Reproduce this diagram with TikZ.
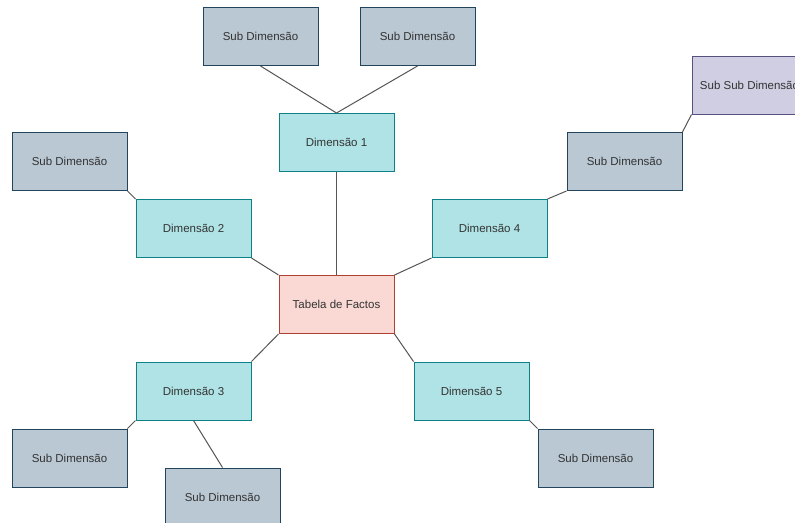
\documentclass[tikz,border=0pt]{standalone}
\usepackage{fontspec}
\setmainfont{Liberation Sans}
\definecolor{subfill}{HTML}{BAC8D3}
\definecolor{subdraw}{HTML}{23445D}
\definecolor{dimfill}{HTML}{B0E3E6}
\definecolor{dimdraw}{HTML}{0E8088}
\definecolor{factfill}{HTML}{FAD9D5}
\definecolor{factdraw}{HTML}{AE4132}
\definecolor{subsubfill}{HTML}{D0CEE2}
\definecolor{subsubdraw}{HTML}{56517E}
\definecolor{linkcol}{HTML}{555555}
\begin{document}
\begin{tikzpicture}[x=1pt,y=-1pt,
  box/.style={rectangle, minimum width=115pt, minimum height=58pt, inner sep=0pt,
    line width=1pt, font=\fontsize{11.5pt}{13pt}\selectfont, text=black!80},
  subbox/.style={box, fill=subfill, draw=subdraw},
  dimbox/.style={box, fill=dimfill, draw=dimdraw},
  factbox/.style={box, fill=factfill, draw=factdraw},
  subsubbox/.style={box, fill=subsubfill, draw=subsubdraw},
  link/.style={draw=linkcol, line width=1pt}]
\useasboundingbox (0,0) rectangle (795,522);
\clip (0,0) rectangle (795,522);

% fact table in the centre
\node[factbox] (fact) at (336.5,304.5) {Tabela de Factos};

% dimensions
\node[dimbox] (d1) at (336.5,142.5) {Dimensão 1};
\node[dimbox] (d2) at (193.5,228.5) {Dimensão 2};
\node[dimbox] (d3) at (193.5,391) {Dimensão 3};
\node[dimbox] (d4) at (489.5,228.5) {Dimensão 4};
\node[dimbox] (d5) at (471.5,391) {Dimensão 5};

% sub dimensions
\node[subbox] (s1a) at (260.5,36.5) {Sub Dimensão};
\node[subbox] (s1b) at (417.5,36.5) {Sub Dimensão};
\node[subbox] (s2) at (69.5,161.5) {Sub Dimensão};
\node[subbox] (s3a) at (69.5,458) {Sub Dimensão};
\node[subbox] (s3b) at (222.5,497) {Sub Dimensão};
\node[subbox] (s4) at (624.5,161.5) {Sub Dimensão};
\node[subbox] (s5) at (595.5,458) {Sub Dimensão};
\node[subsubbox] (ss4) at (749.5,85) {Sub Sub Dimensão};

% links
\path[link] (s1a.south) -- (d1.north);
\path[link] (s1b.south) -- (d1.north);
\path[link] (d1.south) -- (fact.north);
\path[link] (s2.south east) -- (d2.north west);
\path[link] (d2.south east) -- (fact.north west);
\path[link] (fact.north east) -- (d4.south west);
\path[link] (d4.north east) -- (s4.south west);
\path[link] (s4.north east) -- (ss4.south west);
\path[link] (fact.south west) -- (d3.north east);
\path[link] (d3.south west) -- (s3a.north east);
\path[link] (d3.south) -- (s3b.north);
\path[link] (fact.south east) -- (d5.north west);
\path[link] (d5.south east) -- (s5.north west);
\end{tikzpicture}
\end{document}
